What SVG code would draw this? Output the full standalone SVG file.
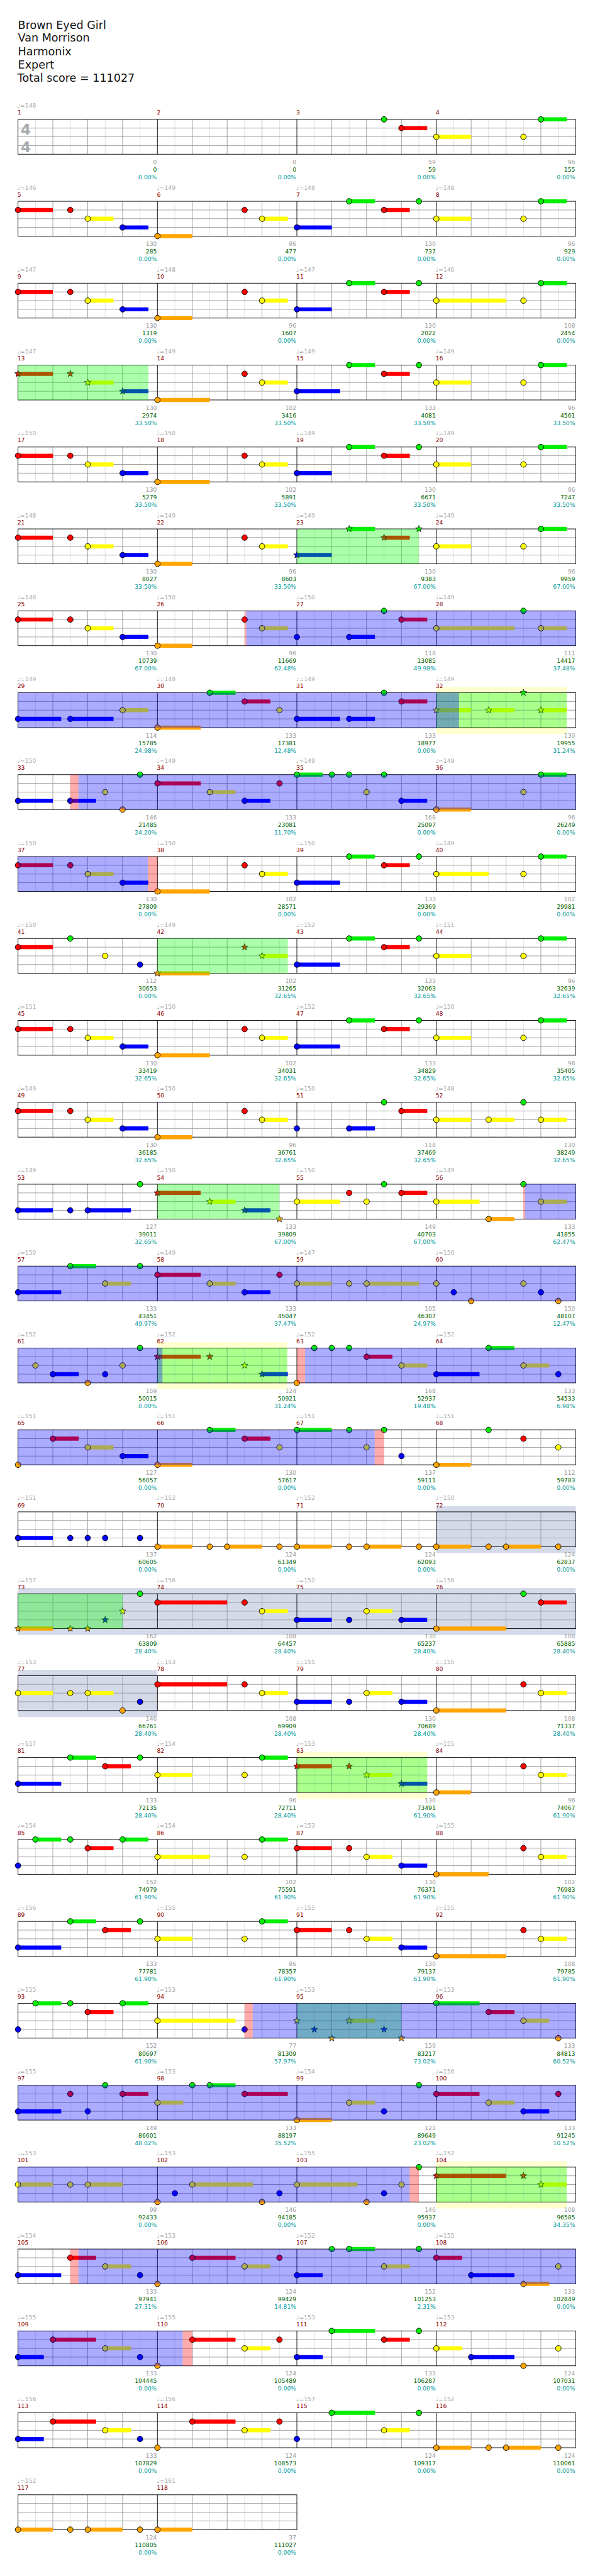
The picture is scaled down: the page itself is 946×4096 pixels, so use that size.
<svg xmlns="http://www.w3.org/2000/svg" width="946" height="4096" viewBox="0 0 946 4096">
<style>
text{font-family:"DejaVu Sans","Liberation Sans",sans-serif;font-size:10px}
.t{font-size:19px;fill:#111}
.tp{fill:#aaa}
.mn{fill:#8b0000}
.sc,.cu,.pc{text-anchor:end}
.sc{fill:#999}.cu{fill:#006400}.pc{fill:#009a9a}
.ts{font-size:25px;font-weight:bold;fill:#aaa;text-anchor:middle}
.sG,.sR,.sY,.sB,.sO{fill:none;stroke-width:7}
.sG{stroke:#00ee00}.sR{stroke:#f00}.sY{stroke:#ff0}.sB{stroke:#00f}.sO{stroke:#ffa500}
.G{fill:#00ee00}.R{fill:#f00}.Y{fill:#ff0}.B{fill:#00f}.O{fill:#ffa500}
.od{fill:#00f;opacity:.33}.sp{fill:#0f0;opacity:.33}.pk{fill:#f00;opacity:.33}
.py{fill:#ffffd0}.gy{fill:#d4dae8}
</style>
<defs>
<circle id="c" r="4.8" stroke="#000" stroke-width="1"/>
<path id="s" d="M0-6L1.47-2.02 5.71-1.85 2.38.77 3.53 4.85 0 2.5-3.53 4.85-2.38.77-5.71-1.85-1.47-2.02Z" stroke="#000" stroke-width=".8"/>
<g id="gm" fill="none"><path d="M30 0V60M90 0V60M150 0V60M210 0V60" stroke="#ddd"/><path d="M60 0V60M120 0V60M180 0V60M0 15H240M0 30H240M0 45H240" stroke="#999"/></g>
<g id="g4"><use href="#gm"/><use href="#gm" x="240"/><use href="#gm" x="480"/><use href="#gm" x="720"/><rect width="960" height="60" fill="none" stroke="#000"/><path d="M240 0V60M480 0V60M720 0V60" stroke="#000"/></g>
<g id="g2"><use href="#gm"/><use href="#gm" x="240"/><rect width="480" height="60" fill="none" stroke="#000"/><path d="M240 0V60" stroke="#000"/></g>
</defs>
<rect width="946" height="4096" fill="#fff"/>
<g transform="scale(0.9237)">
<g id="header">
<text class="t" x="31" y="49.3">Brown Eyed Girl</text>
<text class="t" x="31" y="72">Van Morrison</text>
<text class="t" x="31" y="95.3">Harmonix</text>
<text class="t" x="31" y="118">Expert</text>
<text class="t" x="30" y="141">Total score = 111027</text>
</g>

<g id="row1" transform="translate(31,205.5)">
<use href="#g4"/>
<text class="ts" x="13.5" y="26.5">4</text><text class="ts" x="13.5" y="56">4</text>
<text class="tp" x="-1" y="-20">♩=148</text>
<text class="mn" x="-1" y="-8">1</text><text class="mn" x="239" y="-8">2</text><text class="mn" x="479" y="-8">3</text><text class="mn" x="719" y="-8">4</text>
<path class="sR" d="M660 15H704.4"/><path class="sY" d="M720 30H780"/><path class="sG" d="M900 0H944.4"/>
<use href="#c" class="G" x="630" y="0"/><use href="#c" class="R" x="660" y="15"/><use href="#c" class="Y" x="720" y="30"/><use href="#c" class="Y" x="870" y="30"/><use href="#c" class="G" x="900" y="0"/>
<text class="sc" x="239" y="77">0</text><text class="cu" x="239" y="90">0</text><text class="pc" x="239" y="103">0.00%</text>
<text class="sc" x="479" y="77">0</text><text class="cu" x="479" y="90">0</text><text class="pc" x="479" y="103">0.00%</text>
<text class="sc" x="719" y="77">59</text><text class="cu" x="719" y="90">59</text><text class="pc" x="719" y="103">0.00%</text>
<text class="sc" x="959" y="77">96</text><text class="cu" x="959" y="90">155</text><text class="pc" x="959" y="103">0.00%</text>
</g>

<g id="row2" transform="translate(31,346.5)">
<use href="#g4"/>
<text class="tp" x="-1" y="-20">♩=146</text><text class="tp" x="239" y="-20">♩=149</text><text class="tp" x="479" y="-20">♩=148</text><text class="tp" x="719" y="-20">♩=148</text>
<text class="mn" x="-1" y="-8">5</text><text class="mn" x="239" y="-8">6</text><text class="mn" x="479" y="-8">7</text><text class="mn" x="719" y="-8">8</text>
<path class="sR" d="M0 15H60M630 15H674.4"/><path class="sY" d="M120 30H164.4M420 30H464.4M720 30H780"/><path class="sB" d="M180 45H224.4M480 45H540"/><path class="sO" d="M240 60H300"/><path class="sG" d="M570 0H614.4M900 0H944.4"/>
<use href="#c" class="R" x="0" y="15"/><use href="#c" class="R" x="90" y="15"/><use href="#c" class="Y" x="120" y="30"/><use href="#c" class="B" x="180" y="45"/><use href="#c" class="O" x="240" y="60"/><use href="#c" class="R" x="390" y="15"/><use href="#c" class="Y" x="420" y="30"/><use href="#c" class="B" x="480" y="45"/><use href="#c" class="G" x="570" y="0"/><use href="#c" class="R" x="630" y="15"/><use href="#c" class="G" x="690" y="0"/><use href="#c" class="Y" x="720" y="30"/><use href="#c" class="Y" x="870" y="30"/><use href="#c" class="G" x="900" y="0"/>
<text class="sc" x="239" y="77">130</text><text class="cu" x="239" y="90">285</text><text class="pc" x="239" y="103">0.00%</text>
<text class="sc" x="479" y="77">96</text><text class="cu" x="479" y="90">477</text><text class="pc" x="479" y="103">0.00%</text>
<text class="sc" x="719" y="77">130</text><text class="cu" x="719" y="90">737</text><text class="pc" x="719" y="103">0.00%</text>
<text class="sc" x="959" y="77">96</text><text class="cu" x="959" y="90">929</text><text class="pc" x="959" y="103">0.00%</text>
</g>

<g id="row3" transform="translate(31,487.5)">
<use href="#g4"/>
<text class="tp" x="-1" y="-20">♩=147</text><text class="tp" x="239" y="-20">♩=148</text><text class="tp" x="479" y="-20">♩=147</text><text class="tp" x="719" y="-20">♩=146</text>
<text class="mn" x="-1" y="-8">9</text><text class="mn" x="239" y="-8">10</text><text class="mn" x="479" y="-8">11</text><text class="mn" x="719" y="-8">12</text>
<path class="sR" d="M0 15H60M630 15H674.4"/><path class="sY" d="M120 30H164.4M420 30H464.4M720 30H840"/><path class="sB" d="M180 45H224.4M480 45H540"/><path class="sO" d="M240 60H300"/><path class="sG" d="M570 0H614.4M900 0H944.4"/>
<use href="#c" class="R" x="0" y="15"/><use href="#c" class="R" x="90" y="15"/><use href="#c" class="Y" x="120" y="30"/><use href="#c" class="B" x="180" y="45"/><use href="#c" class="O" x="240" y="60"/><use href="#c" class="R" x="390" y="15"/><use href="#c" class="Y" x="420" y="30"/><use href="#c" class="B" x="480" y="45"/><use href="#c" class="G" x="570" y="0"/><use href="#c" class="R" x="630" y="15"/><use href="#c" class="G" x="690" y="0"/><use href="#c" class="Y" x="720" y="30"/><use href="#c" class="Y" x="870" y="30"/><use href="#c" class="G" x="900" y="0"/>
<text class="sc" x="239" y="77">130</text><text class="cu" x="239" y="90">1319</text><text class="pc" x="239" y="103">0.00%</text>
<text class="sc" x="479" y="77">96</text><text class="cu" x="479" y="90">1607</text><text class="pc" x="479" y="103">0.00%</text>
<text class="sc" x="719" y="77">130</text><text class="cu" x="719" y="90">2022</text><text class="pc" x="719" y="103">0.00%</text>
<text class="sc" x="959" y="77">108</text><text class="cu" x="959" y="90">2454</text><text class="pc" x="959" y="103">0.00%</text>
</g>

<g id="row4" transform="translate(31,628.5)">
<use href="#g4"/>
<text class="tp" x="-1" y="-20">♩=147</text><text class="tp" x="239" y="-20">♩=149</text><text class="tp" x="479" y="-20">♩=149</text><text class="tp" x="719" y="-20">♩=149</text>
<text class="mn" x="-1" y="-8">13</text><text class="mn" x="239" y="-8">14</text><text class="mn" x="479" y="-8">15</text><text class="mn" x="719" y="-8">16</text>
<path class="sR" d="M0 15H60M630 15H674.4"/><path class="sY" d="M120 30H164.4M420 30H464.4M720 30H780"/><path class="sB" d="M180 45H224.4M480 45H554.4"/><path class="sO" d="M240 60H330"/><path class="sG" d="M570 0H614.4M900 0H944.4"/>
<use href="#s" class="R" x="0" y="15"/><use href="#s" class="R" x="90" y="15"/><use href="#s" class="Y" x="120" y="30"/><use href="#s" class="B" x="180" y="45"/><use href="#c" class="O" x="240" y="60"/><use href="#c" class="R" x="390" y="15"/><use href="#c" class="Y" x="420" y="30"/><use href="#c" class="B" x="480" y="45"/><use href="#c" class="G" x="570" y="0"/><use href="#c" class="R" x="630" y="15"/><use href="#c" class="G" x="690" y="0"/><use href="#c" class="Y" x="720" y="30"/><use href="#c" class="Y" x="870" y="30"/><use href="#c" class="G" x="900" y="0"/>
<rect class="sp" x="0" y="0" width="224.4" height="60"/>
<text class="sc" x="239" y="77">130</text><text class="cu" x="239" y="90">2974</text><text class="pc" x="239" y="103">33.50%</text>
<text class="sc" x="479" y="77">102</text><text class="cu" x="479" y="90">3416</text><text class="pc" x="479" y="103">33.50%</text>
<text class="sc" x="719" y="77">133</text><text class="cu" x="719" y="90">4081</text><text class="pc" x="719" y="103">33.50%</text>
<text class="sc" x="959" y="77">96</text><text class="cu" x="959" y="90">4561</text><text class="pc" x="959" y="103">33.50%</text>
</g>

<g id="row5" transform="translate(31,769.5)">
<use href="#g4"/>
<text class="tp" x="-1" y="-20">♩=150</text><text class="tp" x="239" y="-20">♩=150</text><text class="tp" x="479" y="-20">♩=149</text><text class="tp" x="719" y="-20">♩=149</text>
<text class="mn" x="-1" y="-8">17</text><text class="mn" x="239" y="-8">18</text><text class="mn" x="479" y="-8">19</text><text class="mn" x="719" y="-8">20</text>
<path class="sR" d="M0 15H60M630 15H674.4"/><path class="sY" d="M120 30H164.4M420 30H464.4M720 30H780"/><path class="sB" d="M180 45H224.4M480 45H540"/><path class="sO" d="M240 60H330"/><path class="sG" d="M570 0H614.4M900 0H944.4"/>
<use href="#c" class="R" x="0" y="15"/><use href="#c" class="R" x="90" y="15"/><use href="#c" class="Y" x="120" y="30"/><use href="#c" class="B" x="180" y="45"/><use href="#c" class="O" x="240" y="60"/><use href="#c" class="R" x="390" y="15"/><use href="#c" class="Y" x="420" y="30"/><use href="#c" class="B" x="480" y="45"/><use href="#c" class="G" x="570" y="0"/><use href="#c" class="R" x="630" y="15"/><use href="#c" class="G" x="690" y="0"/><use href="#c" class="Y" x="720" y="30"/><use href="#c" class="Y" x="870" y="30"/><use href="#c" class="G" x="900" y="0"/>
<text class="sc" x="239" y="77">130</text><text class="cu" x="239" y="90">5279</text><text class="pc" x="239" y="103">33.50%</text>
<text class="sc" x="479" y="77">102</text><text class="cu" x="479" y="90">5891</text><text class="pc" x="479" y="103">33.50%</text>
<text class="sc" x="719" y="77">130</text><text class="cu" x="719" y="90">6671</text><text class="pc" x="719" y="103">33.50%</text>
<text class="sc" x="959" y="77">96</text><text class="cu" x="959" y="90">7247</text><text class="pc" x="959" y="103">33.50%</text>
</g>

<g id="row6" transform="translate(31,910.5)">
<use href="#g4"/>
<text class="tp" x="-1" y="-20">♩=148</text><text class="tp" x="239" y="-20">♩=149</text><text class="tp" x="479" y="-20">♩=149</text><text class="tp" x="719" y="-20">♩=149</text>
<text class="mn" x="-1" y="-8">21</text><text class="mn" x="239" y="-8">22</text><text class="mn" x="479" y="-8">23</text><text class="mn" x="719" y="-8">24</text>
<path class="sR" d="M0 15H60M630 15H674.4"/><path class="sY" d="M120 30H164.4M420 30H464.4M720 30H780"/><path class="sB" d="M180 45H224.4M480 45H540"/><path class="sO" d="M240 60H300"/><path class="sG" d="M570 0H614.4M900 0H944.4"/>
<use href="#c" class="R" x="0" y="15"/><use href="#c" class="R" x="90" y="15"/><use href="#c" class="Y" x="120" y="30"/><use href="#c" class="B" x="180" y="45"/><use href="#c" class="O" x="240" y="60"/><use href="#c" class="R" x="390" y="15"/><use href="#c" class="Y" x="420" y="30"/><use href="#s" class="B" x="480" y="45"/><use href="#s" class="G" x="570" y="0"/><use href="#s" class="R" x="630" y="15"/><use href="#s" class="G" x="690" y="0"/><use href="#c" class="Y" x="720" y="30"/><use href="#c" class="Y" x="870" y="30"/><use href="#c" class="G" x="900" y="0"/>
<rect class="sp" x="480" y="0" width="210" height="60"/>
<text class="sc" x="239" y="77">130</text><text class="cu" x="239" y="90">8027</text><text class="pc" x="239" y="103">33.50%</text>
<text class="sc" x="479" y="77">96</text><text class="cu" x="479" y="90">8603</text><text class="pc" x="479" y="103">33.50%</text>
<text class="sc" x="719" y="77">130</text><text class="cu" x="719" y="90">9383</text><text class="pc" x="719" y="103">67.00%</text>
<text class="sc" x="959" y="77">96</text><text class="cu" x="959" y="90">9959</text><text class="pc" x="959" y="103">67.00%</text>
</g>

<g id="row7" transform="translate(31,1051.5)">
<use href="#g4"/>
<text class="tp" x="-1" y="-20">♩=148</text><text class="tp" x="239" y="-20">♩=150</text><text class="tp" x="479" y="-20">♩=150</text><text class="tp" x="719" y="-20">♩=149</text>
<text class="mn" x="-1" y="-8">25</text><text class="mn" x="239" y="-8">26</text><text class="mn" x="479" y="-8">27</text><text class="mn" x="719" y="-8">28</text>
<path class="sR" d="M0 15H60M660 15H704.4"/><path class="sY" d="M120 30H164.4M420 30H464.4M720 30H854.4M900 30H944.4"/><path class="sB" d="M180 45H224.4M570 45H614.4"/><path class="sO" d="M240 60H300"/>
<use href="#c" class="R" x="0" y="15"/><use href="#c" class="R" x="90" y="15"/><use href="#c" class="Y" x="120" y="30"/><use href="#c" class="B" x="180" y="45"/><use href="#c" class="O" x="240" y="60"/><use href="#c" class="R" x="390" y="15"/><use href="#c" class="Y" x="420" y="30"/><use href="#c" class="B" x="480" y="45"/><use href="#c" class="B" x="570" y="45"/><use href="#c" class="G" x="630" y="0"/><use href="#c" class="R" x="660" y="15"/><use href="#c" class="Y" x="720" y="30"/><use href="#c" class="G" x="870" y="0"/><use href="#c" class="Y" x="900" y="30"/>
<rect class="pk" x="390" y="0" width="3" height="60"/><rect class="od" x="393" y="0" width="567" height="60"/>
<text class="sc" x="239" y="77">130</text><text class="cu" x="239" y="90">10739</text><text class="pc" x="239" y="103">67.00%</text>
<text class="sc" x="479" y="77">96</text><text class="cu" x="479" y="90">11669</text><text class="pc" x="479" y="103">62.48%</text>
<text class="sc" x="719" y="77">118</text><text class="cu" x="719" y="90">13085</text><text class="pc" x="719" y="103">49.98%</text>
<text class="sc" x="959" y="77">111</text><text class="cu" x="959" y="90">14417</text><text class="pc" x="959" y="103">37.48%</text>
</g>

<g id="row8" transform="translate(31,1192.5)">
<rect class="py" x="720" y="-10" width="224.4" height="81"/>
<use href="#g4"/>
<text class="tp" x="-1" y="-20">♩=149</text><text class="tp" x="239" y="-20">♩=148</text><text class="tp" x="479" y="-20">♩=149</text><text class="tp" x="719" y="-20">♩=149</text>
<text class="mn" x="-1" y="-8">29</text><text class="mn" x="239" y="-8">30</text><text class="mn" x="479" y="-8">31</text><text class="mn" x="719" y="-8">32</text>
<path class="sB" d="M0 45H74.4M90 45H164.4M480 45H554.4M570 45H614.4"/><path class="sY" d="M180 30H224.4M720 30H780M810 30H854.4M900 30H944.4"/><path class="sO" d="M240 60H314.4"/><path class="sG" d="M330 0H374.4"/><path class="sR" d="M390 15H434.4M660 15H704.4"/>
<use href="#c" class="B" x="0" y="45"/><use href="#c" class="B" x="90" y="45"/><use href="#c" class="Y" x="180" y="30"/><use href="#c" class="O" x="240" y="60"/><use href="#c" class="G" x="330" y="0"/><use href="#c" class="R" x="390" y="15"/><use href="#c" class="Y" x="450" y="30"/><use href="#c" class="B" x="480" y="45"/><use href="#c" class="B" x="570" y="45"/><use href="#c" class="G" x="630" y="0"/><use href="#c" class="R" x="660" y="15"/><use href="#s" class="Y" x="720" y="30"/><use href="#s" class="Y" x="810" y="30"/><use href="#s" class="G" x="870" y="0"/><use href="#s" class="Y" x="900" y="30"/>
<rect class="sp" x="720" y="0" width="224.4" height="60"/><rect class="od" x="0" y="0" width="759" height="60"/>
<text class="sc" x="239" y="77">114</text><text class="cu" x="239" y="90">15785</text><text class="pc" x="239" y="103">24.98%</text>
<text class="sc" x="479" y="77">133</text><text class="cu" x="479" y="90">17381</text><text class="pc" x="479" y="103">12.48%</text>
<text class="sc" x="719" y="77">133</text><text class="cu" x="719" y="90">18977</text><text class="pc" x="719" y="103">0.00%</text>
<text class="sc" x="959" y="77">130</text><text class="cu" x="959" y="90">19955</text><text class="pc" x="959" y="103">31.24%</text>
</g>

<g id="row9" transform="translate(31,1333.5)">
<use href="#g4"/>
<text class="tp" x="-1" y="-20">♩=150</text><text class="tp" x="239" y="-20">♩=149</text><text class="tp" x="479" y="-20">♩=149</text><text class="tp" x="719" y="-20">♩=149</text>
<text class="mn" x="-1" y="-8">33</text><text class="mn" x="239" y="-8">34</text><text class="mn" x="479" y="-8">35</text><text class="mn" x="719" y="-8">36</text>
<path class="sB" d="M0 45H60M90 45H134.4M390 45H434.4M660 45H704.4"/><path class="sR" d="M240 15H314.4"/><path class="sY" d="M330 30H374.4"/><path class="sG" d="M480 0H524.4M900 0H944.4"/><path class="sO" d="M720 60H780"/>
<use href="#c" class="B" x="0" y="45"/><use href="#c" class="B" x="90" y="45"/><use href="#c" class="Y" x="150" y="30"/><use href="#c" class="O" x="180" y="60"/><use href="#c" class="G" x="210" y="0"/><use href="#c" class="R" x="240" y="15"/><use href="#c" class="Y" x="330" y="30"/><use href="#c" class="B" x="390" y="45"/><use href="#c" class="R" x="450" y="15"/><use href="#c" class="G" x="480" y="0"/><use href="#c" class="G" x="540" y="0"/><use href="#c" class="G" x="570" y="0"/><use href="#c" class="Y" x="600" y="30"/><use href="#c" class="G" x="630" y="0"/><use href="#c" class="B" x="660" y="45"/><use href="#c" class="O" x="720" y="60"/><use href="#c" class="Y" x="870" y="30"/><use href="#c" class="G" x="900" y="0"/>
<rect class="pk" x="90" y="0" width="14" height="60"/><rect class="od" x="104" y="0" width="856" height="60"/>
<text class="sc" x="239" y="77">146</text><text class="cu" x="239" y="90">21485</text><text class="pc" x="239" y="103">24.20%</text>
<text class="sc" x="479" y="77">133</text><text class="cu" x="479" y="90">23081</text><text class="pc" x="479" y="103">11.70%</text>
<text class="sc" x="719" y="77">168</text><text class="cu" x="719" y="90">25097</text><text class="pc" x="719" y="103">0.00%</text>
<text class="sc" x="959" y="77">96</text><text class="cu" x="959" y="90">26249</text><text class="pc" x="959" y="103">0.00%</text>
</g>

<g id="row10" transform="translate(31,1474.5)">
<use href="#g4"/>
<text class="tp" x="-1" y="-20">♩=150</text><text class="tp" x="239" y="-20">♩=150</text><text class="tp" x="479" y="-20">♩=150</text><text class="tp" x="719" y="-20">♩=149</text>
<text class="mn" x="-1" y="-8">37</text><text class="mn" x="239" y="-8">38</text><text class="mn" x="479" y="-8">39</text><text class="mn" x="719" y="-8">40</text>
<path class="sR" d="M0 15H60M630 15H674.4"/><path class="sY" d="M120 30H164.4M420 30H464.4M720 30H810"/><path class="sB" d="M180 45H224.4M480 45H554.4"/><path class="sO" d="M240 60H330"/><path class="sG" d="M570 0H614.4M900 0H944.4"/>
<use href="#c" class="R" x="0" y="15"/><use href="#c" class="R" x="90" y="15"/><use href="#c" class="Y" x="120" y="30"/><use href="#c" class="B" x="180" y="45"/><use href="#c" class="O" x="240" y="60"/><use href="#c" class="R" x="390" y="15"/><use href="#c" class="Y" x="420" y="30"/><use href="#c" class="B" x="480" y="45"/><use href="#c" class="G" x="570" y="0"/><use href="#c" class="R" x="630" y="15"/><use href="#c" class="G" x="690" y="0"/><use href="#c" class="Y" x="720" y="30"/><use href="#c" class="Y" x="870" y="30"/><use href="#c" class="G" x="900" y="0"/>
<rect class="od" x="0" y="0" width="223.5" height="60"/><rect class="pk" x="223.5" y="0" width="16.5" height="60"/>
<text class="sc" x="239" y="77">130</text><text class="cu" x="239" y="90">27809</text><text class="pc" x="239" y="103">0.00%</text>
<text class="sc" x="479" y="77">102</text><text class="cu" x="479" y="90">28571</text><text class="pc" x="479" y="103">0.00%</text>
<text class="sc" x="719" y="77">133</text><text class="cu" x="719" y="90">29369</text><text class="pc" x="719" y="103">0.00%</text>
<text class="sc" x="959" y="77">102</text><text class="cu" x="959" y="90">29981</text><text class="pc" x="959" y="103">0.00%</text>
</g>

<g id="row11" transform="translate(31,1615.5)">
<use href="#g4"/>
<text class="tp" x="-1" y="-20">♩=150</text><text class="tp" x="239" y="-20">♩=149</text><text class="tp" x="479" y="-20">♩=152</text><text class="tp" x="719" y="-20">♩=151</text>
<text class="mn" x="-1" y="-8">41</text><text class="mn" x="239" y="-8">42</text><text class="mn" x="479" y="-8">43</text><text class="mn" x="719" y="-8">44</text>
<path class="sR" d="M0 15H60M630 15H674.4"/><path class="sO" d="M240 60H330"/><path class="sY" d="M420 30H464.4M720 30H780"/><path class="sB" d="M480 45H554.4"/><path class="sG" d="M570 0H614.4M900 0H944.4"/>
<use href="#c" class="R" x="0" y="15"/><use href="#c" class="G" x="90" y="0"/><use href="#c" class="Y" x="150" y="30"/><use href="#c" class="B" x="210" y="45"/><use href="#s" class="O" x="240" y="60"/><use href="#s" class="R" x="390" y="15"/><use href="#s" class="Y" x="420" y="30"/><use href="#c" class="B" x="480" y="45"/><use href="#c" class="G" x="570" y="0"/><use href="#c" class="R" x="630" y="15"/><use href="#c" class="G" x="690" y="0"/><use href="#c" class="Y" x="720" y="30"/><use href="#c" class="Y" x="870" y="30"/><use href="#c" class="G" x="900" y="0"/>
<rect class="sp" x="240" y="0" width="224.4" height="60"/>
<text class="sc" x="239" y="77">112</text><text class="cu" x="239" y="90">30653</text><text class="pc" x="239" y="103">0.00%</text>
<text class="sc" x="479" y="77">102</text><text class="cu" x="479" y="90">31265</text><text class="pc" x="479" y="103">32.65%</text>
<text class="sc" x="719" y="77">133</text><text class="cu" x="719" y="90">32063</text><text class="pc" x="719" y="103">32.65%</text>
<text class="sc" x="959" y="77">96</text><text class="cu" x="959" y="90">32639</text><text class="pc" x="959" y="103">32.65%</text>
</g>

<g id="row12" transform="translate(31,1756.5)">
<use href="#g4"/>
<text class="tp" x="-1" y="-20">♩=151</text><text class="tp" x="239" y="-20">♩=150</text><text class="tp" x="479" y="-20">♩=152</text><text class="tp" x="719" y="-20">♩=150</text>
<text class="mn" x="-1" y="-8">45</text><text class="mn" x="239" y="-8">46</text><text class="mn" x="479" y="-8">47</text><text class="mn" x="719" y="-8">48</text>
<path class="sR" d="M0 15H60M630 15H674.4"/><path class="sY" d="M120 30H164.4M420 30H464.4M720 30H780"/><path class="sB" d="M180 45H224.4M480 45H554.4"/><path class="sO" d="M240 60H330"/><path class="sG" d="M570 0H614.4M900 0H944.4"/>
<use href="#c" class="R" x="0" y="15"/><use href="#c" class="R" x="90" y="15"/><use href="#c" class="Y" x="120" y="30"/><use href="#c" class="B" x="180" y="45"/><use href="#c" class="O" x="240" y="60"/><use href="#c" class="R" x="390" y="15"/><use href="#c" class="Y" x="420" y="30"/><use href="#c" class="B" x="480" y="45"/><use href="#c" class="G" x="570" y="0"/><use href="#c" class="R" x="630" y="15"/><use href="#c" class="G" x="690" y="0"/><use href="#c" class="Y" x="720" y="30"/><use href="#c" class="Y" x="870" y="30"/><use href="#c" class="G" x="900" y="0"/>
<text class="sc" x="239" y="77">130</text><text class="cu" x="239" y="90">33419</text><text class="pc" x="239" y="103">32.65%</text>
<text class="sc" x="479" y="77">102</text><text class="cu" x="479" y="90">34031</text><text class="pc" x="479" y="103">32.65%</text>
<text class="sc" x="719" y="77">133</text><text class="cu" x="719" y="90">34829</text><text class="pc" x="719" y="103">32.65%</text>
<text class="sc" x="959" y="77">96</text><text class="cu" x="959" y="90">35405</text><text class="pc" x="959" y="103">32.65%</text>
</g>

<g id="row13" transform="translate(31,1897.5)">
<use href="#g4"/>
<text class="tp" x="-1" y="-20">♩=149</text><text class="tp" x="239" y="-20">♩=150</text><text class="tp" x="479" y="-20">♩=150</text><text class="tp" x="719" y="-20">♩=148</text>
<text class="mn" x="-1" y="-8">49</text><text class="mn" x="239" y="-8">50</text><text class="mn" x="479" y="-8">51</text><text class="mn" x="719" y="-8">52</text>
<path class="sR" d="M0 15H60M660 15H704.4"/><path class="sY" d="M120 30H164.4M420 30H464.4M720 30H780M810 30H854.4M900 30H944.4"/><path class="sB" d="M180 45H224.4M570 45H614.4"/><path class="sO" d="M240 60H300"/>
<use href="#c" class="R" x="0" y="15"/><use href="#c" class="R" x="90" y="15"/><use href="#c" class="Y" x="120" y="30"/><use href="#c" class="B" x="180" y="45"/><use href="#c" class="O" x="240" y="60"/><use href="#c" class="R" x="390" y="15"/><use href="#c" class="Y" x="420" y="30"/><use href="#c" class="B" x="480" y="45"/><use href="#c" class="B" x="570" y="45"/><use href="#c" class="G" x="630" y="0"/><use href="#c" class="R" x="660" y="15"/><use href="#c" class="Y" x="720" y="30"/><use href="#c" class="Y" x="810" y="30"/><use href="#c" class="G" x="870" y="0"/><use href="#c" class="Y" x="900" y="30"/>
<text class="sc" x="239" y="77">130</text><text class="cu" x="239" y="90">36185</text><text class="pc" x="239" y="103">32.65%</text>
<text class="sc" x="479" y="77">96</text><text class="cu" x="479" y="90">36761</text><text class="pc" x="479" y="103">32.65%</text>
<text class="sc" x="719" y="77">118</text><text class="cu" x="719" y="90">37469</text><text class="pc" x="719" y="103">32.65%</text>
<text class="sc" x="959" y="77">130</text><text class="cu" x="959" y="90">38249</text><text class="pc" x="959" y="103">32.65%</text>
</g>

<g id="row14" transform="translate(31,2038.5)">
<use href="#g4"/>
<text class="tp" x="-1" y="-20">♩=149</text><text class="tp" x="239" y="-20">♩=150</text><text class="tp" x="479" y="-20">♩=150</text><text class="tp" x="719" y="-20">♩=149</text>
<text class="mn" x="-1" y="-8">53</text><text class="mn" x="239" y="-8">54</text><text class="mn" x="479" y="-8">55</text><text class="mn" x="719" y="-8">56</text>
<path class="sB" d="M0 45H60M120 45H194.4M390 45H434.4"/><path class="sR" d="M240 15H314.4M660 15H704.4"/><path class="sY" d="M330 30H374.4M480 30H554.4M720 30H794.4M900 30H944.4"/><path class="sO" d="M810 60H854.4"/>
<use href="#c" class="B" x="0" y="45"/><use href="#c" class="B" x="90" y="45"/><use href="#c" class="B" x="120" y="45"/><use href="#c" class="G" x="210" y="0"/><use href="#s" class="R" x="240" y="15"/><use href="#s" class="Y" x="330" y="30"/><use href="#s" class="B" x="390" y="45"/><use href="#s" class="O" x="450" y="60"/><use href="#c" class="Y" x="480" y="30"/><use href="#c" class="R" x="570" y="15"/><use href="#c" class="Y" x="600" y="30"/><use href="#c" class="G" x="630" y="0"/><use href="#c" class="R" x="660" y="15"/><use href="#c" class="Y" x="720" y="30"/><use href="#c" class="O" x="810" y="60"/><use href="#c" class="G" x="870" y="0"/><use href="#c" class="Y" x="900" y="30"/>
<rect class="sp" x="240" y="0" width="210" height="60"/><rect class="pk" x="870" y="0" width="3" height="60"/><rect class="od" x="873" y="0" width="87" height="60"/>
<text class="sc" x="239" y="77">127</text><text class="cu" x="239" y="90">39011</text><text class="pc" x="239" y="103">32.65%</text>
<text class="sc" x="479" y="77">133</text><text class="cu" x="479" y="90">39809</text><text class="pc" x="479" y="103">67.00%</text>
<text class="sc" x="719" y="77">149</text><text class="cu" x="719" y="90">40703</text><text class="pc" x="719" y="103">67.00%</text>
<text class="sc" x="959" y="77">133</text><text class="cu" x="959" y="90">41855</text><text class="pc" x="959" y="103">62.47%</text>
</g>

<g id="row15" transform="translate(31,2179.5)">
<use href="#g4"/>
<text class="tp" x="-1" y="-20">♩=150</text><text class="tp" x="239" y="-20">♩=149</text><text class="tp" x="479" y="-20">♩=147</text><text class="tp" x="719" y="-20">♩=150</text>
<text class="mn" x="-1" y="-8">57</text><text class="mn" x="239" y="-8">58</text><text class="mn" x="479" y="-8">59</text><text class="mn" x="719" y="-8">60</text>
<path class="sB" d="M0 45H74.4M390 45H434.4"/><path class="sG" d="M90 0H134.4"/><path class="sY" d="M150 30H194.4M330 30H374.4M480 30H540M600 30H690"/><path class="sR" d="M240 15H314.4"/>
<use href="#c" class="B" x="0" y="45"/><use href="#c" class="G" x="90" y="0"/><use href="#c" class="Y" x="150" y="30"/><use href="#c" class="G" x="210" y="0"/><use href="#c" class="R" x="240" y="15"/><use href="#c" class="Y" x="330" y="30"/><use href="#c" class="B" x="390" y="45"/><use href="#c" class="R" x="450" y="15"/><use href="#c" class="Y" x="480" y="30"/><use href="#c" class="Y" x="570" y="30"/><use href="#c" class="Y" x="600" y="30"/><use href="#c" class="Y" x="720" y="30"/><use href="#c" class="B" x="750" y="45"/><use href="#c" class="O" x="780" y="60"/><use href="#c" class="Y" x="870" y="30"/><use href="#c" class="B" x="900" y="45"/><use href="#c" class="O" x="930" y="60"/>
<rect class="od" x="0" y="0" width="960" height="60"/>
<text class="sc" x="239" y="77">133</text><text class="cu" x="239" y="90">43451</text><text class="pc" x="239" y="103">49.97%</text>
<text class="sc" x="479" y="77">133</text><text class="cu" x="479" y="90">45047</text><text class="pc" x="479" y="103">37.47%</text>
<text class="sc" x="719" y="77">105</text><text class="cu" x="719" y="90">46307</text><text class="pc" x="719" y="103">24.97%</text>
<text class="sc" x="959" y="77">150</text><text class="cu" x="959" y="90">48107</text><text class="pc" x="959" y="103">12.47%</text>
</g>

<g id="row16" transform="translate(31,2320.5)">
<rect class="py" x="240" y="-10" width="223.5" height="81"/>
<use href="#g4"/>
<text class="tp" x="-1" y="-20">♩=152</text><text class="tp" x="239" y="-20">♩=152</text><text class="tp" x="479" y="-20">♩=152</text><text class="tp" x="719" y="-20">♩=152</text>
<text class="mn" x="-1" y="-8">61</text><text class="mn" x="239" y="-8">62</text><text class="mn" x="479" y="-8">63</text><text class="mn" x="719" y="-8">64</text>
<path class="sB" d="M60 45H104.4M420 45H464.4M720 45H794.4"/><path class="sR" d="M240 15H314.4M600 15H644.4"/><path class="sY" d="M660 30H704.4M870 30H914.4"/><path class="sG" d="M810 0H854.4"/>
<use href="#c" class="Y" x="30" y="30"/><use href="#c" class="B" x="60" y="45"/><use href="#c" class="O" x="120" y="60"/><use href="#c" class="B" x="150" y="45"/><use href="#c" class="Y" x="180" y="30"/><use href="#c" class="G" x="210" y="0"/><use href="#s" class="R" x="240" y="15"/><use href="#s" class="R" x="330" y="15"/><use href="#s" class="Y" x="390" y="30"/><use href="#s" class="B" x="420" y="45"/><use href="#c" class="O" x="480" y="60"/><use href="#c" class="G" x="510" y="0"/><use href="#c" class="G" x="540" y="0"/><use href="#c" class="G" x="570" y="0"/><use href="#c" class="R" x="600" y="15"/><use href="#c" class="Y" x="660" y="30"/><use href="#c" class="B" x="720" y="45"/><use href="#c" class="G" x="810" y="0"/><use href="#c" class="Y" x="870" y="30"/><use href="#c" class="B" x="930" y="45"/>
<rect class="sp" x="240" y="0" width="223.5" height="60"/><rect class="od" x="0" y="0" width="248.6" height="60"/><rect class="pk" x="480" y="0" width="14" height="60"/><rect class="od" x="494" y="0" width="466" height="60"/>
<text class="sc" x="239" y="77">159</text><text class="cu" x="239" y="90">50015</text><text class="pc" x="239" y="103">0.00%</text>
<text class="sc" x="479" y="77">124</text><text class="cu" x="479" y="90">50921</text><text class="pc" x="479" y="103">31.24%</text>
<text class="sc" x="719" y="77">168</text><text class="cu" x="719" y="90">52937</text><text class="pc" x="719" y="103">19.48%</text>
<text class="sc" x="959" y="77">133</text><text class="cu" x="959" y="90">54533</text><text class="pc" x="959" y="103">6.98%</text>
</g>

<g id="row17" transform="translate(31,2461.5)">
<use href="#g4"/>
<text class="tp" x="-1" y="-20">♩=151</text><text class="tp" x="239" y="-20">♩=151</text><text class="tp" x="479" y="-20">♩=151</text><text class="tp" x="719" y="-20">♩=151</text>
<text class="mn" x="-1" y="-8">65</text><text class="mn" x="239" y="-8">66</text><text class="mn" x="479" y="-8">67</text><text class="mn" x="719" y="-8">68</text>
<path class="sR" d="M60 15H104.4M390 15H434.4"/><path class="sY" d="M120 30H164.4"/><path class="sB" d="M180 45H224.4"/><path class="sO" d="M240 60H300M720 60H780"/><path class="sG" d="M330 0H374.4M480 0H540"/>
<use href="#c" class="O" x="0" y="60"/><use href="#c" class="R" x="60" y="15"/><use href="#c" class="Y" x="120" y="30"/><use href="#c" class="B" x="180" y="45"/><use href="#c" class="O" x="240" y="60"/><use href="#c" class="G" x="330" y="0"/><use href="#c" class="R" x="390" y="15"/><use href="#c" class="Y" x="450" y="30"/><use href="#c" class="G" x="480" y="0"/><use href="#c" class="G" x="570" y="0"/><use href="#c" class="Y" x="600" y="30"/><use href="#c" class="G" x="630" y="0"/><use href="#c" class="B" x="660" y="45"/><use href="#c" class="O" x="720" y="60"/><use href="#c" class="G" x="810" y="0"/><use href="#c" class="R" x="870" y="15"/><use href="#c" class="Y" x="930" y="30"/>
<rect class="od" x="0" y="0" width="614" height="60"/><rect class="pk" x="614" y="0" width="16" height="60"/>
<text class="sc" x="239" y="77">127</text><text class="cu" x="239" y="90">56057</text><text class="pc" x="239" y="103">0.00%</text>
<text class="sc" x="479" y="77">130</text><text class="cu" x="479" y="90">57617</text><text class="pc" x="479" y="103">0.00%</text>
<text class="sc" x="719" y="77">137</text><text class="cu" x="719" y="90">59111</text><text class="pc" x="719" y="103">0.00%</text>
<text class="sc" x="959" y="77">112</text><text class="cu" x="959" y="90">59783</text><text class="pc" x="959" y="103">0.00%</text>
</g>

<g id="row18" transform="translate(31,2602.5)">
<rect class="gy" x="720" y="-10" width="240" height="81"/>
<use href="#g4"/>
<text class="tp" x="-1" y="-20">♩=151</text><text class="tp" x="239" y="-20">♩=152</text><text class="tp" x="479" y="-20">♩=152</text><text class="tp" x="719" y="-20">♩=150</text>
<text class="mn" x="-1" y="-8">69</text><text class="mn" x="239" y="-8">70</text><text class="mn" x="479" y="-8">71</text><text class="mn" x="719" y="-8">72</text>
<path class="sB" d="M0 45H60"/><path class="sO" d="M240 60H300M360 60H420M480 60H540M600 60H660M720 60H780M840 60H900"/>
<use href="#c" class="B" x="0" y="45"/><use href="#c" class="B" x="90" y="45"/><use href="#c" class="B" x="120" y="45"/><use href="#c" class="B" x="150" y="45"/><use href="#c" class="B" x="210" y="45"/><use href="#c" class="O" x="240" y="60"/><use href="#c" class="O" x="330" y="60"/><use href="#c" class="O" x="360" y="60"/><use href="#c" class="O" x="450" y="60"/><use href="#c" class="O" x="480" y="60"/><use href="#c" class="O" x="570" y="60"/><use href="#c" class="O" x="600" y="60"/><use href="#c" class="O" x="690" y="60"/><use href="#c" class="O" x="720" y="60"/><use href="#c" class="O" x="810" y="60"/><use href="#c" class="O" x="840" y="60"/><use href="#c" class="O" x="930" y="60"/>
<text class="sc" x="239" y="77">137</text><text class="cu" x="239" y="90">60605</text><text class="pc" x="239" y="103">0.00%</text>
<text class="sc" x="479" y="77">124</text><text class="cu" x="479" y="90">61349</text><text class="pc" x="479" y="103">0.00%</text>
<text class="sc" x="719" y="77">124</text><text class="cu" x="719" y="90">62093</text><text class="pc" x="719" y="103">0.00%</text>
<text class="sc" x="959" y="77">124</text><text class="cu" x="959" y="90">62837</text><text class="pc" x="959" y="103">0.00%</text>
</g>

<g id="row19" transform="translate(31,2743.5)">
<rect class="gy" x="0" y="-10" width="960" height="81"/>
<use href="#g4"/>
<text class="tp" x="-1" y="-20">♩=157</text><text class="tp" x="239" y="-20">♩=156</text><text class="tp" x="479" y="-20">♩=152</text><text class="tp" x="719" y="-20">♩=156</text>
<text class="mn" x="-1" y="-8">73</text><text class="mn" x="239" y="-8">74</text><text class="mn" x="479" y="-8">75</text><text class="mn" x="719" y="-8">76</text>
<path class="sO" d="M0 60H60M720 60H840"/><path class="sR" d="M240 15H360M900 15H944.4"/><path class="sY" d="M420 30H464.4M600 30H644.4"/><path class="sB" d="M480 45H540M660 45H704.4"/>
<use href="#s" class="O" x="0" y="60"/><use href="#s" class="O" x="90" y="60"/><use href="#s" class="O" x="120" y="60"/><use href="#s" class="B" x="150" y="45"/><use href="#s" class="Y" x="180" y="30"/><use href="#c" class="G" x="210" y="0"/><use href="#c" class="R" x="240" y="15"/><use href="#c" class="R" x="390" y="15"/><use href="#c" class="Y" x="420" y="30"/><use href="#c" class="B" x="480" y="45"/><use href="#c" class="B" x="570" y="45"/><use href="#c" class="Y" x="600" y="30"/><use href="#c" class="B" x="660" y="45"/><use href="#c" class="O" x="720" y="60"/><use href="#c" class="G" x="870" y="0"/><use href="#c" class="R" x="900" y="15"/>
<rect class="sp" x="0" y="0" width="180" height="60"/>
<text class="sc" x="239" y="77">162</text><text class="cu" x="239" y="90">63809</text><text class="pc" x="239" y="103">28.40%</text>
<text class="sc" x="479" y="77">108</text><text class="cu" x="479" y="90">64457</text><text class="pc" x="479" y="103">28.40%</text>
<text class="sc" x="719" y="77">130</text><text class="cu" x="719" y="90">65237</text><text class="pc" x="719" y="103">28.40%</text>
<text class="sc" x="959" y="77">108</text><text class="cu" x="959" y="90">65885</text><text class="pc" x="959" y="103">28.40%</text>
</g>

<g id="row20" transform="translate(31,2884.5)">
<rect class="gy" x="0" y="-10" width="240" height="81"/>
<use href="#g4"/>
<text class="tp" x="-1" y="-20">♩=153</text><text class="tp" x="239" y="-20">♩=153</text><text class="tp" x="479" y="-20">♩=155</text><text class="tp" x="719" y="-20">♩=155</text>
<text class="mn" x="-1" y="-8">77</text><text class="mn" x="239" y="-8">78</text><text class="mn" x="479" y="-8">79</text><text class="mn" x="719" y="-8">80</text>
<path class="sY" d="M0 30H60M120 30H164.4M420 30H464.4M600 30H644.4M900 30H944.4"/><path class="sR" d="M240 15H360"/><path class="sB" d="M480 45H540M660 45H704.4"/><path class="sO" d="M720 60H840"/>
<use href="#c" class="Y" x="0" y="30"/><use href="#c" class="Y" x="90" y="30"/><use href="#c" class="Y" x="120" y="30"/><use href="#c" class="O" x="180" y="60"/><use href="#c" class="B" x="210" y="45"/><use href="#c" class="R" x="240" y="15"/><use href="#c" class="R" x="390" y="15"/><use href="#c" class="Y" x="420" y="30"/><use href="#c" class="B" x="480" y="45"/><use href="#c" class="B" x="570" y="45"/><use href="#c" class="Y" x="600" y="30"/><use href="#c" class="B" x="660" y="45"/><use href="#c" class="O" x="720" y="60"/><use href="#c" class="R" x="870" y="15"/><use href="#c" class="Y" x="900" y="30"/>
<text class="sc" x="239" y="77">146</text><text class="cu" x="239" y="90">66761</text><text class="pc" x="239" y="103">28.40%</text>
<text class="sc" x="479" y="77">108</text><text class="cu" x="479" y="90">69909</text><text class="pc" x="479" y="103">28.40%</text>
<text class="sc" x="719" y="77">130</text><text class="cu" x="719" y="90">70689</text><text class="pc" x="719" y="103">28.40%</text>
<text class="sc" x="959" y="77">108</text><text class="cu" x="959" y="90">71337</text><text class="pc" x="959" y="103">28.40%</text>
</g>

<g id="row21" transform="translate(31,3025.5)">
<rect class="py" x="480" y="-10" width="224.4" height="81"/>
<use href="#g4"/>
<text class="tp" x="-1" y="-20">♩=157</text><text class="tp" x="239" y="-20">♩=154</text><text class="tp" x="479" y="-20">♩=153</text><text class="tp" x="719" y="-20">♩=155</text>
<text class="mn" x="-1" y="-8">81</text><text class="mn" x="239" y="-8">82</text><text class="mn" x="479" y="-8">83</text><text class="mn" x="719" y="-8">84</text>
<path class="sB" d="M0 45H74.4M660 45H704.4"/><path class="sG" d="M90 0H134.4M420 0H464.4"/><path class="sR" d="M150 15H194.4M480 15H540"/><path class="sY" d="M240 30H300M600 30H644.4M900 30H944.4"/><path class="sO" d="M720 60H780"/>
<use href="#c" class="B" x="0" y="45"/><use href="#c" class="G" x="90" y="0"/><use href="#c" class="R" x="150" y="15"/><use href="#c" class="G" x="210" y="0"/><use href="#c" class="Y" x="240" y="30"/><use href="#c" class="Y" x="390" y="30"/><use href="#c" class="G" x="420" y="0"/><use href="#s" class="R" x="480" y="15"/><use href="#s" class="R" x="570" y="15"/><use href="#s" class="Y" x="600" y="30"/><use href="#s" class="B" x="660" y="45"/><use href="#c" class="O" x="720" y="60"/><use href="#c" class="R" x="870" y="15"/><use href="#c" class="Y" x="900" y="30"/>
<rect class="sp" x="480" y="0" width="224.4" height="60"/>
<text class="sc" x="239" y="77">133</text><text class="cu" x="239" y="90">72135</text><text class="pc" x="239" y="103">28.40%</text>
<text class="sc" x="479" y="77">96</text><text class="cu" x="479" y="90">72711</text><text class="pc" x="479" y="103">28.40%</text>
<text class="sc" x="719" y="77">130</text><text class="cu" x="719" y="90">73491</text><text class="pc" x="719" y="103">61.90%</text>
<text class="sc" x="959" y="77">96</text><text class="cu" x="959" y="90">74067</text><text class="pc" x="959" y="103">61.90%</text>
</g>

<g id="row22" transform="translate(31,3166.5)">
<use href="#g4"/>
<text class="tp" x="-1" y="-20">♩=154</text><text class="tp" x="239" y="-20">♩=154</text><text class="tp" x="479" y="-20">♩=153</text><text class="tp" x="719" y="-20">♩=155</text>
<text class="mn" x="-1" y="-8">85</text><text class="mn" x="239" y="-8">86</text><text class="mn" x="479" y="-8">87</text><text class="mn" x="719" y="-8">88</text>
<path class="sG" d="M30 0H74.4M180 0H224.4M420 0H464.4"/><path class="sR" d="M120 15H164.4M480 15H540"/><path class="sY" d="M240 30H330M600 30H644.4M900 30H944.4"/><path class="sB" d="M660 45H704.4"/><path class="sO" d="M720 60H810"/>
<use href="#c" class="B" x="0" y="45"/><use href="#c" class="G" x="30" y="0"/><use href="#c" class="G" x="90" y="0"/><use href="#c" class="R" x="120" y="15"/><use href="#c" class="G" x="180" y="0"/><use href="#c" class="Y" x="240" y="30"/><use href="#c" class="Y" x="390" y="30"/><use href="#c" class="G" x="420" y="0"/><use href="#c" class="R" x="480" y="15"/><use href="#c" class="R" x="570" y="15"/><use href="#c" class="Y" x="600" y="30"/><use href="#c" class="B" x="660" y="45"/><use href="#c" class="O" x="720" y="60"/><use href="#c" class="R" x="870" y="15"/><use href="#c" class="Y" x="900" y="30"/>
<text class="sc" x="239" y="77">152</text><text class="cu" x="239" y="90">74979</text><text class="pc" x="239" y="103">61.90%</text>
<text class="sc" x="479" y="77">102</text><text class="cu" x="479" y="90">75591</text><text class="pc" x="479" y="103">61.90%</text>
<text class="sc" x="719" y="77">130</text><text class="cu" x="719" y="90">76371</text><text class="pc" x="719" y="103">61.90%</text>
<text class="sc" x="959" y="77">102</text><text class="cu" x="959" y="90">76983</text><text class="pc" x="959" y="103">61.90%</text>
</g>

<g id="row23" transform="translate(31,3307.5)">
<use href="#g4"/>
<text class="tp" x="-1" y="-20">♩=156</text><text class="tp" x="239" y="-20">♩=155</text><text class="tp" x="479" y="-20">♩=155</text><text class="tp" x="719" y="-20">♩=155</text>
<text class="mn" x="-1" y="-8">89</text><text class="mn" x="239" y="-8">90</text><text class="mn" x="479" y="-8">91</text><text class="mn" x="719" y="-8">92</text>
<path class="sB" d="M0 45H74.4M660 45H704.4"/><path class="sG" d="M90 0H134.4M420 0H464.4"/><path class="sR" d="M150 15H194.4M480 15H540"/><path class="sY" d="M240 30H300M600 30H644.4M900 30H944.4"/><path class="sO" d="M720 60H840"/>
<use href="#c" class="B" x="0" y="45"/><use href="#c" class="G" x="90" y="0"/><use href="#c" class="R" x="150" y="15"/><use href="#c" class="G" x="210" y="0"/><use href="#c" class="Y" x="240" y="30"/><use href="#c" class="Y" x="390" y="30"/><use href="#c" class="G" x="420" y="0"/><use href="#c" class="R" x="480" y="15"/><use href="#c" class="R" x="570" y="15"/><use href="#c" class="Y" x="600" y="30"/><use href="#c" class="B" x="660" y="45"/><use href="#c" class="O" x="720" y="60"/><use href="#c" class="R" x="870" y="15"/><use href="#c" class="Y" x="900" y="30"/>
<text class="sc" x="239" y="77">133</text><text class="cu" x="239" y="90">77781</text><text class="pc" x="239" y="103">61.90%</text>
<text class="sc" x="479" y="77">96</text><text class="cu" x="479" y="90">78357</text><text class="pc" x="479" y="103">61.90%</text>
<text class="sc" x="719" y="77">130</text><text class="cu" x="719" y="90">79137</text><text class="pc" x="719" y="103">61.90%</text>
<text class="sc" x="959" y="77">108</text><text class="cu" x="959" y="90">79785</text><text class="pc" x="959" y="103">61.90%</text>
</g>

<g id="row24" transform="translate(31,3448.5)">
<use href="#g4"/>
<text class="tp" x="-1" y="-20">♩=155</text><text class="tp" x="239" y="-20">♩=153</text><text class="tp" x="479" y="-20">♩=153</text><text class="tp" x="719" y="-20">♩=153</text>
<text class="mn" x="-1" y="-8">93</text><text class="mn" x="239" y="-8">94</text><text class="mn" x="479" y="-8">95</text><text class="mn" x="719" y="-8">96</text>
<path class="sG" d="M30 0H74.4M180 0H224.4M720 0H794.4"/><path class="sR" d="M120 15H164.4M810 15H854.4"/><path class="sY" d="M240 30H374.4M570 30H614.4M870 30H914.4"/>
<use href="#c" class="B" x="0" y="45"/><use href="#c" class="G" x="30" y="0"/><use href="#c" class="G" x="90" y="0"/><use href="#c" class="R" x="120" y="15"/><use href="#c" class="G" x="180" y="0"/><use href="#c" class="Y" x="240" y="30"/><use href="#c" class="B" x="390" y="45"/><use href="#s" class="Y" x="480" y="30"/><use href="#s" class="B" x="510" y="45"/><use href="#s" class="O" x="540" y="60"/><use href="#s" class="Y" x="570" y="30"/><use href="#s" class="B" x="630" y="45"/><use href="#s" class="O" x="660" y="60"/><use href="#c" class="G" x="720" y="0"/><use href="#c" class="R" x="810" y="15"/><use href="#c" class="Y" x="870" y="30"/><use href="#c" class="O" x="930" y="60"/>
<rect class="sp" x="480" y="0" width="180" height="60"/><rect class="pk" x="390" y="0" width="14" height="60"/><rect class="od" x="404" y="0" width="556" height="60"/>
<text class="sc" x="239" y="77">152</text><text class="cu" x="239" y="90">80697</text><text class="pc" x="239" y="103">61.90%</text>
<text class="sc" x="479" y="77">77</text><text class="cu" x="479" y="90">81309</text><text class="pc" x="479" y="103">57.97%</text>
<text class="sc" x="719" y="77">159</text><text class="cu" x="719" y="90">83217</text><text class="pc" x="719" y="103">73.02%</text>
<text class="sc" x="959" y="77">133</text><text class="cu" x="959" y="90">84813</text><text class="pc" x="959" y="103">60.52%</text>
</g>

<g id="row25" transform="translate(31,3589.5)">
<use href="#g4"/>
<text class="tp" x="-1" y="-20">♩=155</text><text class="tp" x="239" y="-20">♩=153</text><text class="tp" x="479" y="-20">♩=154</text><text class="tp" x="719" y="-20">♩=156</text>
<text class="mn" x="-1" y="-8">97</text><text class="mn" x="239" y="-8">98</text><text class="mn" x="479" y="-8">99</text><text class="mn" x="719" y="-8">100</text>
<path class="sB" d="M0 45H74.4M870 45H914.4"/><path class="sR" d="M180 15H224.4M390 15H464.4M720 15H794.4"/><path class="sY" d="M240 30H284.4M570 30H614.4M810 30H854.4"/><path class="sG" d="M330 0H374.4"/><path class="sO" d="M480 60H540"/>
<use href="#c" class="B" x="0" y="45"/><use href="#c" class="R" x="90" y="15"/><use href="#c" class="B" x="120" y="45"/><use href="#c" class="G" x="150" y="0"/><use href="#c" class="R" x="180" y="15"/><use href="#c" class="Y" x="240" y="30"/><use href="#c" class="G" x="300" y="0"/><use href="#c" class="G" x="330" y="0"/><use href="#c" class="R" x="390" y="15"/><use href="#c" class="O" x="480" y="60"/><use href="#c" class="Y" x="570" y="30"/><use href="#c" class="B" x="630" y="45"/><use href="#c" class="G" x="690" y="0"/><use href="#c" class="R" x="720" y="15"/><use href="#c" class="Y" x="810" y="30"/><use href="#c" class="B" x="870" y="45"/><use href="#c" class="R" x="930" y="15"/>
<rect class="od" x="0" y="0" width="960" height="60"/>
<text class="sc" x="239" y="77">149</text><text class="cu" x="239" y="90">86601</text><text class="pc" x="239" y="103">48.02%</text>
<text class="sc" x="479" y="77">133</text><text class="cu" x="479" y="90">88197</text><text class="pc" x="479" y="103">35.52%</text>
<text class="sc" x="719" y="77">121</text><text class="cu" x="719" y="90">89649</text><text class="pc" x="719" y="103">23.02%</text>
<text class="sc" x="959" y="77">133</text><text class="cu" x="959" y="90">91245</text><text class="pc" x="959" y="103">10.52%</text>
</g>

<g id="row26" transform="translate(31,3730.5)">
<rect class="py" x="720" y="-10" width="224.4" height="81"/>
<use href="#g4"/>
<text class="tp" x="-1" y="-20">♩=153</text><text class="tp" x="239" y="-20">♩=153</text><text class="tp" x="479" y="-20">♩=155</text><text class="tp" x="719" y="-20">♩=152</text>
<text class="mn" x="-1" y="-8">101</text><text class="mn" x="239" y="-8">102</text><text class="mn" x="479" y="-8">103</text><text class="mn" x="719" y="-8">104</text>
<path class="sY" d="M0 30H60M120 30H180M300 30H404.4M480 30H584.4M900 30H944.4"/><path class="sR" d="M720 15H840"/>
<use href="#c" class="Y" x="0" y="30"/><use href="#c" class="Y" x="90" y="30"/><use href="#c" class="Y" x="120" y="30"/><use href="#c" class="O" x="240" y="60"/><use href="#c" class="B" x="270" y="45"/><use href="#c" class="Y" x="300" y="30"/><use href="#c" class="O" x="420" y="60"/><use href="#c" class="B" x="450" y="45"/><use href="#c" class="Y" x="480" y="30"/><use href="#c" class="O" x="600" y="60"/><use href="#c" class="B" x="630" y="45"/><use href="#c" class="Y" x="660" y="30"/><use href="#c" class="G" x="690" y="0"/><use href="#s" class="R" x="720" y="15"/><use href="#s" class="R" x="870" y="15"/><use href="#s" class="Y" x="900" y="30"/>
<rect class="sp" x="720" y="0" width="224.4" height="60"/><rect class="od" x="0" y="0" width="674" height="60"/><rect class="pk" x="674" y="0" width="16" height="60"/>
<text class="sc" x="239" y="77">99</text><text class="cu" x="239" y="90">92433</text><text class="pc" x="239" y="103">0.00%</text>
<text class="sc" x="479" y="77">146</text><text class="cu" x="479" y="90">94185</text><text class="pc" x="479" y="103">0.00%</text>
<text class="sc" x="719" y="77">146</text><text class="cu" x="719" y="90">95937</text><text class="pc" x="719" y="103">0.00%</text>
<text class="sc" x="959" y="77">108</text><text class="cu" x="959" y="90">96585</text><text class="pc" x="959" y="103">34.35%</text>
</g>

<g id="row27" transform="translate(31,3871.5)">
<use href="#g4"/>
<text class="tp" x="-1" y="-20">♩=154</text><text class="tp" x="239" y="-20">♩=153</text><text class="tp" x="479" y="-20">♩=152</text><text class="tp" x="719" y="-20">♩=155</text>
<text class="mn" x="-1" y="-8">105</text><text class="mn" x="239" y="-8">106</text><text class="mn" x="479" y="-8">107</text><text class="mn" x="719" y="-8">108</text>
<path class="sB" d="M0 45H74.4M480 45H524.4M780 45H854.4"/><path class="sR" d="M90 15H134.4M300 15H374.4M720 15H764.4"/><path class="sY" d="M150 30H194.4M390 30H434.4M630 30H674.4"/><path class="sG" d="M570 0H614.4"/><path class="sO" d="M870 60H914.4"/>
<use href="#c" class="B" x="0" y="45"/><use href="#c" class="R" x="90" y="15"/><use href="#c" class="Y" x="150" y="30"/><use href="#c" class="B" x="210" y="45"/><use href="#c" class="O" x="240" y="60"/><use href="#c" class="R" x="300" y="15"/><use href="#c" class="Y" x="390" y="30"/><use href="#c" class="R" x="450" y="15"/><use href="#c" class="B" x="480" y="45"/><use href="#c" class="G" x="540" y="0"/><use href="#c" class="G" x="570" y="0"/><use href="#c" class="Y" x="630" y="30"/><use href="#c" class="G" x="690" y="0"/><use href="#c" class="R" x="720" y="15"/><use href="#c" class="B" x="780" y="45"/><use href="#c" class="O" x="870" y="60"/><use href="#c" class="Y" x="930" y="30"/>
<rect class="pk" x="90" y="0" width="14" height="60"/><rect class="od" x="104" y="0" width="856" height="60"/>
<text class="sc" x="239" y="77">133</text><text class="cu" x="239" y="90">97941</text><text class="pc" x="239" y="103">27.31%</text>
<text class="sc" x="479" y="77">124</text><text class="cu" x="479" y="90">99429</text><text class="pc" x="479" y="103">14.81%</text>
<text class="sc" x="719" y="77">152</text><text class="cu" x="719" y="90">101253</text><text class="pc" x="719" y="103">2.31%</text>
<text class="sc" x="959" y="77">133</text><text class="cu" x="959" y="90">102849</text><text class="pc" x="959" y="103">0.00%</text>
</g>

<g id="row28" transform="translate(31,4012.5)">
<use href="#g4"/>
<text class="tp" x="-1" y="-20">♩=155</text><text class="tp" x="239" y="-20">♩=155</text><text class="tp" x="479" y="-20">♩=153</text><text class="tp" x="719" y="-20">♩=153</text>
<text class="mn" x="-1" y="-8">109</text><text class="mn" x="239" y="-8">110</text><text class="mn" x="479" y="-8">111</text><text class="mn" x="719" y="-8">112</text>
<path class="sB" d="M0 45H44.4M480 45H524.4M780 45H854.4"/><path class="sR" d="M60 15H134.4M300 15H374.4M630 15H674.4"/><path class="sY" d="M150 30H194.4M390 30H434.4M720 30H764.4"/><path class="sG" d="M540 0H614.4"/>
<use href="#c" class="B" x="0" y="45"/><use href="#c" class="R" x="60" y="15"/><use href="#c" class="Y" x="150" y="30"/><use href="#c" class="B" x="210" y="45"/><use href="#c" class="O" x="240" y="60"/><use href="#c" class="R" x="300" y="15"/><use href="#c" class="Y" x="390" y="30"/><use href="#c" class="R" x="450" y="15"/><use href="#c" class="B" x="480" y="45"/><use href="#c" class="G" x="540" y="0"/><use href="#c" class="R" x="630" y="15"/><use href="#c" class="G" x="690" y="0"/><use href="#c" class="Y" x="720" y="30"/><use href="#c" class="B" x="780" y="45"/><use href="#c" class="O" x="870" y="60"/><use href="#c" class="Y" x="930" y="30"/>
<rect class="od" x="0" y="0" width="283.5" height="60"/><rect class="pk" x="283.5" y="0" width="16.5" height="60"/>
<text class="sc" x="239" y="77">133</text><text class="cu" x="239" y="90">104445</text><text class="pc" x="239" y="103">0.00%</text>
<text class="sc" x="479" y="77">124</text><text class="cu" x="479" y="90">105489</text><text class="pc" x="479" y="103">0.00%</text>
<text class="sc" x="719" y="77">133</text><text class="cu" x="719" y="90">106287</text><text class="pc" x="719" y="103">0.00%</text>
<text class="sc" x="959" y="77">124</text><text class="cu" x="959" y="90">107031</text><text class="pc" x="959" y="103">0.00%</text>
</g>

<g id="row29" transform="translate(31,4153.5)">
<use href="#g4"/>
<text class="tp" x="-1" y="-20">♩=156</text><text class="tp" x="239" y="-20">♩=156</text><text class="tp" x="479" y="-20">♩=157</text><text class="tp" x="719" y="-20">♩=152</text>
<text class="mn" x="-1" y="-8">113</text><text class="mn" x="239" y="-8">114</text><text class="mn" x="479" y="-8">115</text><text class="mn" x="719" y="-8">116</text>
<path class="sB" d="M0 45H44.4"/><path class="sR" d="M60 15H134.4M300 15H374.4"/><path class="sY" d="M150 30H194.4M390 30H434.4M630 30H674.4"/><path class="sG" d="M540 0H614.4"/><path class="sO" d="M720 60H780M840 60H900"/>
<use href="#c" class="B" x="0" y="45"/><use href="#c" class="R" x="60" y="15"/><use href="#c" class="Y" x="150" y="30"/><use href="#c" class="B" x="210" y="45"/><use href="#c" class="O" x="240" y="60"/><use href="#c" class="R" x="300" y="15"/><use href="#c" class="Y" x="390" y="30"/><use href="#c" class="R" x="450" y="15"/><use href="#c" class="B" x="480" y="45"/><use href="#c" class="G" x="540" y="0"/><use href="#c" class="Y" x="630" y="30"/><use href="#c" class="G" x="690" y="0"/><use href="#c" class="O" x="720" y="60"/><use href="#c" class="O" x="810" y="60"/><use href="#c" class="O" x="840" y="60"/><use href="#c" class="O" x="930" y="60"/>
<text class="sc" x="239" y="77">133</text><text class="cu" x="239" y="90">107829</text><text class="pc" x="239" y="103">0.00%</text>
<text class="sc" x="479" y="77">124</text><text class="cu" x="479" y="90">108573</text><text class="pc" x="479" y="103">0.00%</text>
<text class="sc" x="719" y="77">124</text><text class="cu" x="719" y="90">109317</text><text class="pc" x="719" y="103">0.00%</text>
<text class="sc" x="959" y="77">124</text><text class="cu" x="959" y="90">110061</text><text class="pc" x="959" y="103">0.00%</text>
</g>

<g id="row30" transform="translate(31,4294.5)">
<use href="#g2"/>
<text class="tp" x="-1" y="-20">♩=152</text><text class="tp" x="239" y="-20">♩=161</text>
<text class="mn" x="-1" y="-8">117</text><text class="mn" x="239" y="-8">118</text>
<path class="sO" d="M0 60H60M120 60H180M240 60H300"/>
<use href="#c" class="O" x="0" y="60"/><use href="#c" class="O" x="90" y="60"/><use href="#c" class="O" x="120" y="60"/><use href="#c" class="O" x="210" y="60"/><use href="#c" class="O" x="240" y="60"/>
<text class="sc" x="239" y="77">124</text><text class="cu" x="239" y="90">110805</text><text class="pc" x="239" y="103">0.00%</text>
<text class="sc" x="479" y="77">37</text><text class="cu" x="479" y="90">111027</text><text class="pc" x="479" y="103">0.00%</text>
</g>
</g>
</svg>
